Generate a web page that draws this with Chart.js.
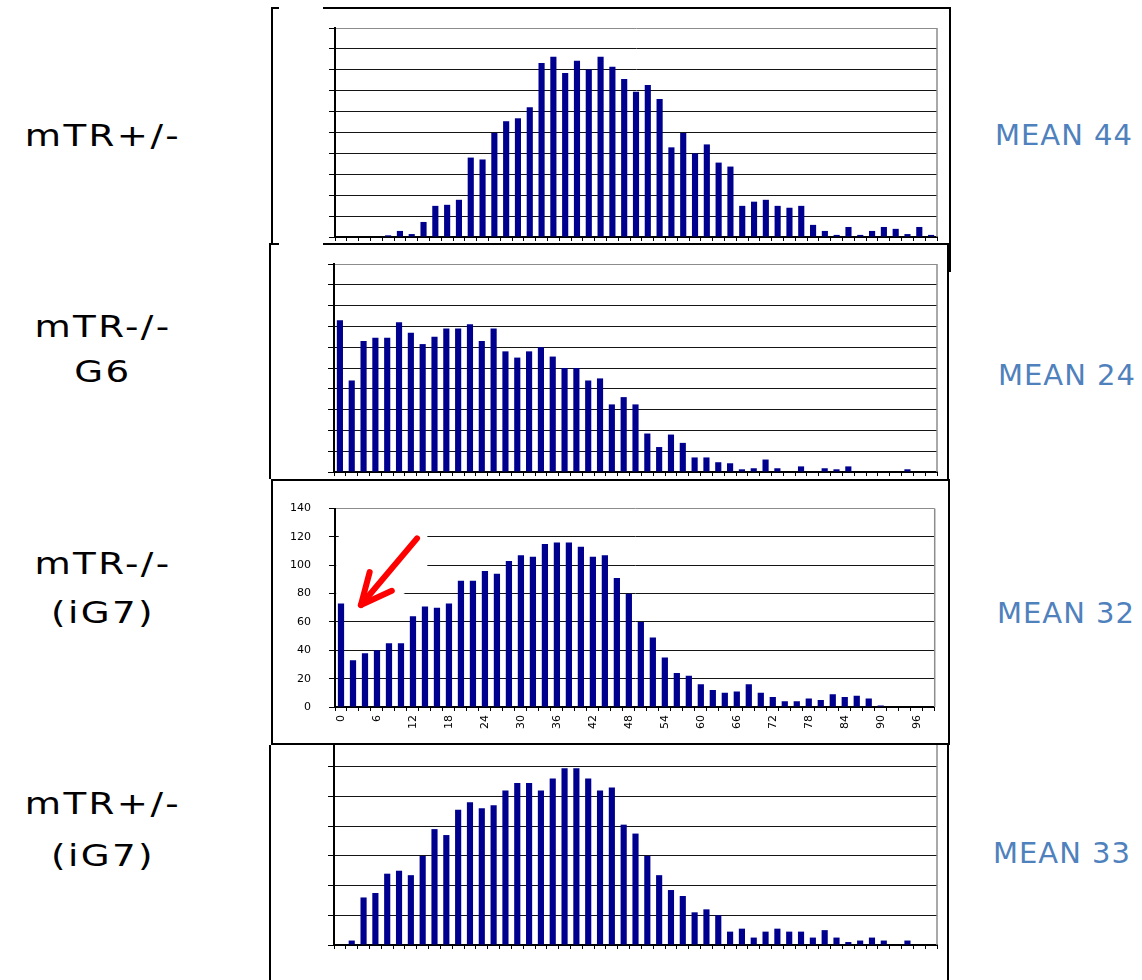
<!DOCTYPE html>
<html>
<head>
<meta charset="utf-8">
<title>Telomere length distributions</title>
<script src="https://cdn.jsdelivr.net/npm/chart.js@4.4.0/dist/chart.umd.min.js"></script>
<style>
    html, body { margin: 0; padding: 0; background: #fff; }
    #slide { position: relative; width: 1142px; height: 980px; overflow: hidden; background: #fff; font-family: 'DejaVu Sans', sans-serif; }
    .ln { position: absolute; background: #000; z-index: 1; }
    canvas { position: absolute; z-index: 1; }
    .geno { position: absolute; left: 0; width: 206px; text-align: center; font-size: 31px; line-height: 30px; letter-spacing: 2px; transform: scaleX(1.2); color: #000; white-space: nowrap; }
    .mean { position: absolute; font-size: 29px; line-height: 29px; letter-spacing: 1px; color: #4f81bd; white-space: nowrap; }
    #box3 { position: absolute; left: 271px; top: 479px; width: 679px; height: 266px; box-sizing: border-box; border: 2px solid #000; background: #fff; z-index: 3; }
    #chart3 { z-index: 4; }
</style>
</head>
<body>
<div id="slide">
    <!-- panel frames -->
    <div class="ln" style="left:271px;top:7px;width:2px;height:237px"></div>
    <div class="ln" style="left:271px;top:7px;width:8px;height:2px"></div>
    <div class="ln" style="left:323px;top:7px;width:628px;height:2px"></div>
    <div class="ln" style="left:949px;top:7px;width:2px;height:265px"></div>
    <div class="ln" style="left:269px;top:243px;width:10px;height:2px"></div>
    <div class="ln" style="left:323px;top:243px;width:628px;height:2px"></div>
    <div class="ln" style="left:269px;top:243px;width:2px;height:236px"></div>
    <div class="ln" style="left:947px;top:243px;width:2px;height:236px"></div>
    <div class="ln" style="left:269px;top:745px;width:2px;height:240px"></div>
    <div class="ln" style="left:947px;top:745px;width:2px;height:240px"></div>
    <div id="box3"></div>

    <canvas id="chart1" width="670" height="229" style="left:276px;top:12px"></canvas>
    <canvas id="chart2" width="670" height="229" style="left:276px;top:248px"></canvas>
    <canvas id="chart3" width="670" height="258" style="left:276px;top:484px"></canvas>
    <canvas id="chart4" width="670" height="227" style="left:276px;top:725px"></canvas>

    <!-- genotype labels -->
    <div class="geno" style="top:120px">mTR+/-</div>
    <div class="geno" style="top:311px">mTR-/-</div>
    <div class="geno" style="top:356px">G6</div>
    <div class="geno" style="top:548px">mTR-/-</div>
    <div class="geno" style="top:597px">(iG7)</div>
    <div class="geno" style="top:788px">mTR+/-</div>
    <div class="geno" style="top:840px">(iG7)</div>

    <!-- means -->
    <div class="mean" style="left:995px;top:121px">MEAN 44</div>
    <div class="mean" style="left:998px;top:361px">MEAN 24</div>
    <div class="mean" style="left:997px;top:599px">MEAN 32</div>
    <div class="mean" style="left:993px;top:839px">MEAN 33</div>
</div>

<script>
// Bins (telomere signal classes) - 51 bins for panels 1, 2, 4 and 50 for panel 3
const binsWide = ['0','2','4','6','8','10','12','14','16','18','20','22','24','26','28','30','32','34','36','38',
    '40','42','44','46','48','50','52','54','56','58','60','62','64','66','68','70','72','74','76','78',
    '80','82','84','86','88','90','92','94','96','98','100'];
const binsNarrow = ['0','2','4','6','8','10','12','14','16','18','20','22','24','26','28','30','32','34','36','38',
    '40','42','44','46','48','50','52','54','56','58','60','62','64','66','68','70','72','74','76','78',
    '80','82','84','86','88','90','92','94','96','98'];

// Shown x tick labels (panel 3 only)
const xTickLabels = ['0','6','12','18','24','30','36','42','48','54','60','66','72','78','84','90','96'];

// y gridlines
const yTicksPlain = [0, 10, 20, 30, 40, 50, 60, 70, 80, 90, 100];
const yTicksCount = [0, 20, 40, 60, 80, 100, 120, 140];

// Series values
const mTRhetValues = [0, 0, 0, 0, 0.8, 2.9, 1.4, 7.2, 14.9, 15.4, 17.8, 38, 37.1, 49.8, 55.4, 56.8, 62.1, 83.3, 86.2, 78.5,
    84.3, 80.1, 86.2, 81.4, 75.6, 69.5, 72.7, 66, 42.9, 49.8, 40, 44.3, 35.6, 33.7, 14.9, 16.9, 17.8, 14.9, 14, 14.9,
    5.8, 2.9, 1, 4.8, 1, 2.9, 4.8, 3.9, 1.4, 4.8, 1];
const mTRnullG6Values = [73, 44, 63, 64.5, 64.5, 72, 67, 61.5, 65, 69, 69, 71, 63, 69, 58, 55, 58, 60, 55.5, 50,
    50, 44, 45, 32.5, 36, 32.5, 18.5, 12, 18, 14, 7, 7, 4.7, 4.2, 1.3, 1.8, 6, 1.8, 0, 2.7,
    0, 1.8, 1.3, 2.7, 0, 0, 0, 0, 1.3, 0, 0];
const mTRnullIG7Values = [73, 33, 38, 40, 45, 45, 64, 71, 70, 73, 89, 89, 96, 94, 103, 107, 106, 115, 116, 116,
    113, 106, 107, 91, 80, 60, 49, 35, 24, 22, 16, 12, 10, 11, 16, 10, 7, 4, 4, 6,
    5, 9, 7, 8, 6, 1, 0, 0, 0, 0];
const mTRhetIG7Values = [0, 3, 32, 35, 48, 50, 47, 60, 78, 74, 91, 96, 92, 94, 104, 109, 109, 104, 112, 119,
    119, 112, 104, 106, 81, 75, 60, 47, 37, 33, 22, 24, 20, 9, 11, 5, 9, 11, 9, 9,
    5, 10, 5, 2, 3, 5, 3, 0, 3, 0, 0];

// Red arrow annotation in panel 3, as [bin index, count]
const arrowTail = [6.34, 119];
const arrowTip = [1.66, 72];
const arrowMask = [[0.2, 128], [7.2, 128], [7.2, 89], [4.6, 77], [-0.4, 77], [-0.4, 116]];

const BAR_COLOR = '#00008f';
const TICK_FONT = { family: "'DejaVu Sans', sans-serif", size: 11 };

/**
 * Grey right edge of the plot area
 */
const plotEdge = {
    id: 'plotEdge',
    afterDraw(chart) {
        const { ctx, chartArea: a } = chart;
        ctx.save();
        ctx.strokeStyle = '#8c8c8c';
        ctx.lineWidth = 1.5;
        ctx.beginPath();
        ctx.moveTo(a.right, a.top);
        ctx.lineTo(a.right, a.bottom);
        ctx.stroke();
        ctx.restore();
    }
};

/**
 * Red arrow pointing at the first bin (panel 3)
 */
const arrowNote = {
    id: 'arrowNote',
    afterDatasetsDraw(chart) {
        const { ctx, scales: { x, y } } = chart;
        const px = p => [x.getPixelForValue(p[0]), y.getPixelForValue(p[1])];

        ctx.save();
        // white backing behind the arrow clip art
        ctx.fillStyle = '#fff';
        ctx.beginPath();
        arrowMask.forEach((p, i) => {
            const [a, b] = px(p);
            if (i) ctx.lineTo(a, b); else ctx.moveTo(a, b);
        });
        ctx.closePath();
        ctx.fill();

        const [x0, y0] = px(arrowTail);
        const [x1, y1] = px(arrowTip);
        const ang = Math.atan2(y1 - y0, x1 - x0);
        const head = 34, spread = 0.44;
        ctx.strokeStyle = '#ff0000';
        ctx.lineWidth = 6;
        ctx.lineCap = 'round';
        ctx.lineJoin = 'round';
        ctx.beginPath();
        ctx.moveTo(x0, y0);
        ctx.lineTo(x1, y1);
        ctx.stroke();
        ctx.beginPath();
        ctx.moveTo(x1 - head * Math.cos(ang - spread), y1 - head * Math.sin(ang - spread));
        ctx.lineTo(x1, y1);
        ctx.lineTo(x1 - head * Math.cos(ang + spread), y1 - head * Math.sin(ang + spread));
        ctx.stroke();
        ctx.restore();
    }
};

/**
 * Build one histogram panel
 */
function initHistogram(id, labels, values, yTicks, opts) {
    const ctx = document.getElementById(id);
    const yMax = yTicks[yTicks.length - 1];

    return new Chart(ctx, {
        type: 'bar',
        data: {
            labels: labels,
            datasets: [{
                data: values,
                backgroundColor: BAR_COLOR,
                borderWidth: 0,
                barPercentage: 0.52,
                categoryPercentage: 1
            }]
        },
        options: {
            responsive: false,
            animation: false,
            events: [],
            layout: {
                padding: { top: opts.padTop, right: 9, left: 0, bottom: 0 }
            },
            plugins: {
                legend: { display: false },
                tooltip: { enabled: false }
            },
            scales: {
                x: {
                    grid: {
                        display: true,
                        drawOnChartArea: false,
                        drawTicks: true,
                        tickLength: 4,
                        offset: true,
                        color: '#000'
                    },
                    border: { display: true, color: '#000', width: 2 },
                    ticks: {
                        display: !!opts.showLabels,
                        autoSkip: false,
                        maxRotation: 90,
                        minRotation: 90,
                        padding: 4,
                        color: '#000',
                        font: TICK_FONT,
                        callback: function(value) {
                            const label = this.getLabelForValue(value);
                            return xTickLabels.includes(label) ? label : '';
                        }
                    },
                    afterFit: function(scale) { scale.height = opts.xHeight; }
                },
                y: {
                    min: 0,
                    max: yMax,
                    afterBuildTicks: function(scale) {
                        scale.ticks = yTicks.map(v => ({ value: v }));
                    },
                    grid: {
                        color: c => (c.tick && c.tick.value === yMax) ? '#8c8c8c' : '#151515',
                        tickColor: '#000',
                        tickLength: 6
                    },
                    border: { display: true, color: '#000', width: 2 },
                    ticks: {
                        display: !!opts.showLabels,
                        padding: 18,
                        color: '#000',
                        font: TICK_FONT
                    },
                    afterFit: function(scale) { scale.width = opts.yWidth; }
                }
            }
        },
        plugins: [plotEdge].concat(opts.extra || [])
    });
}

// Panel 1: mTR+/-
initHistogram('chart1', binsWide, mTRhetValues, yTicksPlain, { padTop: 16, xHeight: 4, yWidth: 59 });

// Panel 2: mTR-/- G6
initHistogram('chart2', binsWide, mTRnullG6Values, yTicksPlain, { padTop: 16, xHeight: 5, yWidth: 58 });

// Panel 3: mTR-/- (iG7), the only one with axis labels
initHistogram('chart3', binsNarrow, mTRnullIG7Values, yTicksCount, { padTop: 16, xHeight: 35, yWidth: 59, showLabels: true, extra: [arrowNote] });

// Panel 4: mTR+/- (iG7)
initHistogram('chart4', binsWide, mTRhetIG7Values, yTicksCount, { padTop: 12, xHeight: 7, yWidth: 58 });
</script>
</body>
</html>
